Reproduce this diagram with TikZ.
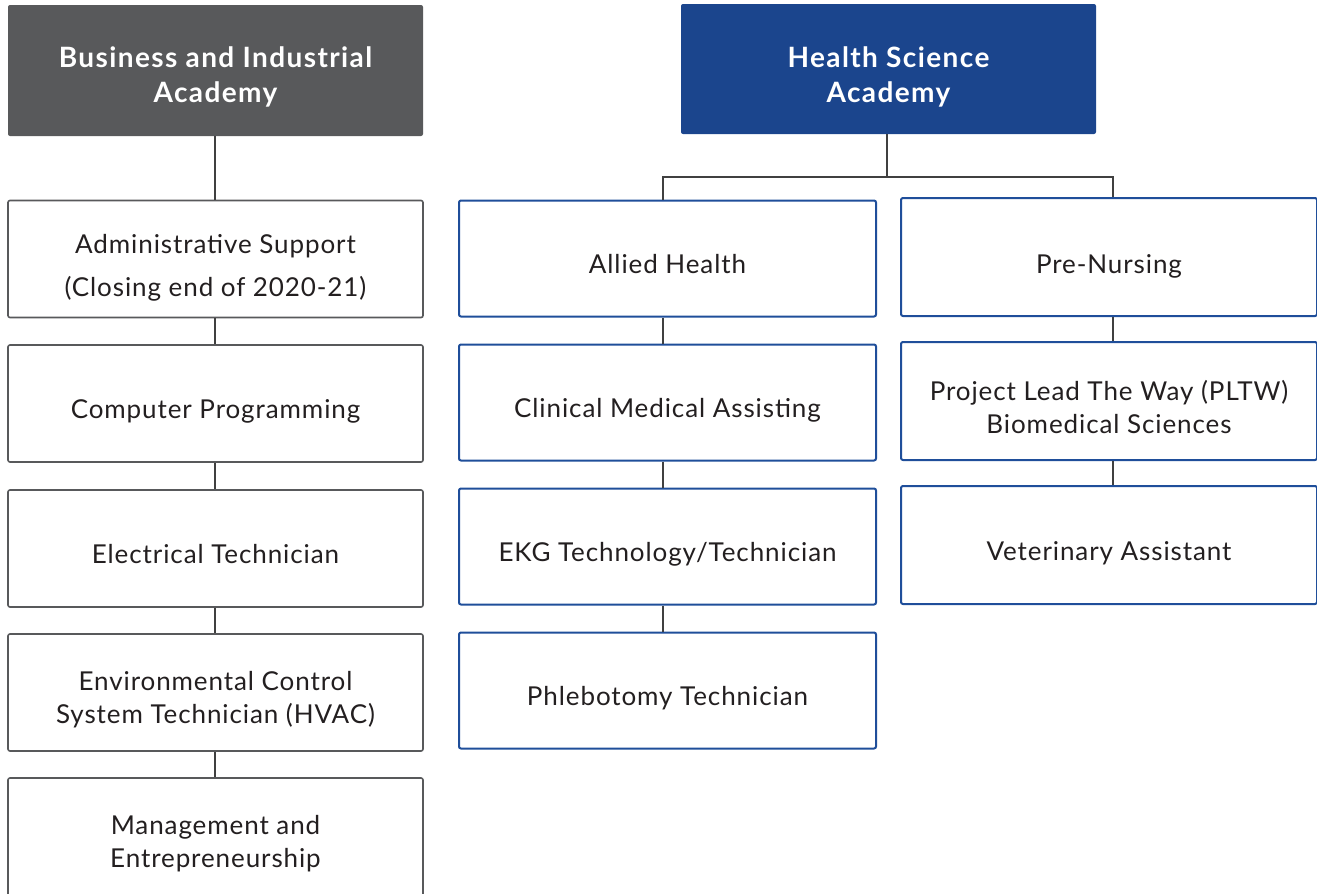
\documentclass[tikz,border=0pt]{standalone}
\usepackage{fontspec}
\setmainfont{Lato}
\newfontfamily\bodyfont[LetterSpace=3.5]{Lato}
\newfontfamily\headfont[LetterSpace=5]{Lato}
\definecolor{hdgray}{HTML}{58595B}
\definecolor{hdblue}{HTML}{1B458D}
\definecolor{bxblue}{HTML}{1F4E9A}
\definecolor{bxgray}{HTML}{58595B}
\definecolor{txt}{HTML}{231F20}
\definecolor{lnc}{HTML}{404040}
\newcommand\lowtxt[2][8pt]{\raisebox{-#1}[\height][\depth]{\begin{tabular}{@{}c@{}}#2\end{tabular}}}
\begin{document}
\begin{tikzpicture}[x=1pt,y=-1pt,
  base/.style={rectangle,rounded corners=2pt,inner sep=0pt},
  header/.style={base,text=white,font=\headfont\fontsize{28}{35}\selectfont\bfseries,minimum width=415pt},
  gbox/.style={base,draw=bxgray,line width=1.6pt,fill=white,text=txt,font=\bodyfont\fontsize{26}{33}\selectfont,minimum width=415pt,minimum height=117pt},
  bbox/.style={base,draw=bxblue,line width=2pt,fill=white,text=txt,font=\bodyfont\fontsize{26}{33}\selectfont,minimum height=116pt},
  conn/.style={draw=lnc,line width=2pt}]
\useasboundingbox (0,0) rectangle (1317,894);
% left column
\node[header,fill=hdgray,minimum height=131pt] (bia) at (215.5,70.5) {\lowtxt[7pt]{Business and Industrial\\Academy}};
\node[gbox] (adm) at (215.5,259) {\lowtxt[9pt]{Administrative Support\\[10pt](Closing end of 2020-21)}};
\node[gbox] (cp) at (215.5,403.5) {\lowtxt{Computer Programming}};
\node[gbox] (et) at (215.5,548.5) {\lowtxt{Electrical Technician}};
\node[gbox] (ecs) at (215.5,692.5) {\lowtxt{Environmental Control\\System Technician (HVAC)}};
\node[gbox,minimum height=126pt] (me) at (215.5,841) {\lowtxt[3pt]{Management and\\Entrepreneurship}};
% health
\node[header,fill=hdblue,minimum height=130pt] (hsa) at (888.5,69) {\lowtxt[9pt]{Health Science\\Academy}};
\node[bbox,minimum width=417pt] (ah) at (667.5,258.5) {\lowtxt{Allied Health}};
\node[bbox,minimum width=417pt] (cma) at (667.5,402.5) {\lowtxt{Clinical Medical Assisting}};
\node[bbox,minimum width=417pt] (ekg) at (667.5,546.5) {\lowtxt{EKG Technology/Technician}};
\node[bbox,minimum width=417pt] (ph) at (667.5,690.5) {\lowtxt{Phlebotomy Technician}};
\node[bbox,minimum width=416pt,minimum height=118pt] (pn) at (1109,257) {\lowtxt[10pt]{Pre-Nursing}};
\node[bbox,minimum width=416pt,minimum height=118pt] (pltw) at (1109,401) {\lowtxt[9pt]{Project Lead The Way (PLTW)\\Biomedical Sciences}};
\node[bbox,minimum width=416pt,minimum height=118pt] (va) at (1109,545) {\lowtxt[9pt]{Veterinary Assistant}};
% connectors
\coordinate (lx) at (215,0);
\coordinate (hj) at (887,177);
\coordinate (hl) at (663,177);
\coordinate (hr) at (1113,177);
\draw[conn] (bia.south -| lx) -- (adm.north -| lx);
\draw[conn] (adm.south -| lx) -- (cp.north -| lx);
\draw[conn] (cp.south -| lx) -- (et.north -| lx);
\draw[conn] (et.south -| lx) -- (ecs.north -| lx);
\draw[conn] (ecs.south -| lx) -- (me.north -| lx);
\draw[conn] (hsa.south -| hj) -- (hj);
\draw[conn] (ah.north -| hl) -- (hl) -- (hr) -- (pn.north -| hr);
\draw[conn] (ah.south -| hl) -- (cma.north -| hl);
\draw[conn] (cma.south -| hl) -- (ekg.north -| hl);
\draw[conn] (ekg.south -| hl) -- (ph.north -| hl);
\draw[conn] (pn.south -| hr) -- (pltw.north -| hr);
\draw[conn] (pltw.south -| hr) -- (va.north -| hr);
\end{tikzpicture}
\end{document}
